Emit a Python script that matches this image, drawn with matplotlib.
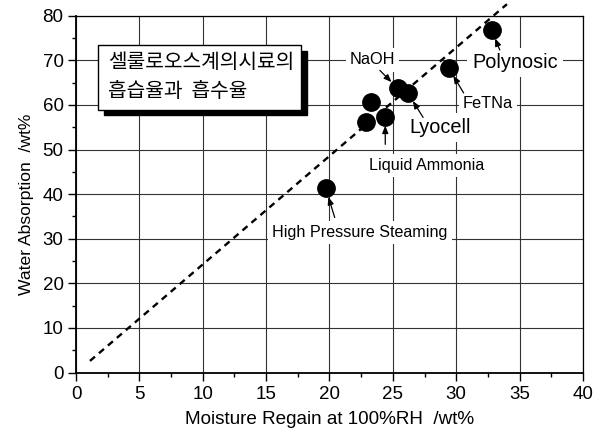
import matplotlib
matplotlib.use("Agg")
import matplotlib.pyplot as plt
from matplotlib.patches import Rectangle
from matplotlib.ticker import MultipleLocator

plt.rcParams['font.family'] = ['Liberation Sans', 'DejaVu Sans']

# ---- data ----
sample_names = ["Polynosic", "FeTNa", "NaOH", "Lyocell",
                "Liquid Ammonia 1", "Liquid Ammonia 2", "Liquid Ammonia", "High Pressure Steaming"]
moisture_regain = [32.8, 29.4, 25.4, 26.2, 23.3, 22.9, 24.4, 19.7]
water_absorption = [76.8, 68.3, 63.7, 62.6, 60.7, 56.2, 57.4, 41.3]

trend_x = [1.1, 34.0]
trend_y = [2.6, 82.6]

x_ticks = [0, 5, 10, 15, 20, 25, 30, 35, 40]
y_ticks = [0, 10, 20, 30, 40, 50, 60, 70, 80]

# labelled samples: (name, text x, text y, arrow tail offset in points, fontsize)
label_specs = [
    ("Polynosic", 34.65, 69.6, (5.8, -14.4), 14.3),
    ("FeTNa", 32.5, 60.4, (10.8, -18.0), 11.8),
    ("NaOH", 23.4, 70.1, (-13.0, 13.0), 11.8),
    ("Lyocell", 28.7, 55.0, (10.8, -17.3), 14.3),
    ("Liquid Ammonia", 27.7, 46.5, (0.0, -20.0), 11.6),
    ("High Pressure Steaming", 22.4, 31.5, (6.5, -21.0), 11.6),
]

fig = plt.figure(figsize=(6.01, 4.38), dpi=100)
ax = fig.add_axes([0.1265, 0.1495, 0.8435, 0.8145])

ax.set_xlim(0, 40)
ax.set_ylim(0, 80)
ax.set_xticks(x_ticks)
ax.set_yticks(y_ticks)
ax.xaxis.set_minor_locator(MultipleLocator(2.5))
ax.yaxis.set_minor_locator(MultipleLocator(5))
ax.tick_params(axis='both', which='major', direction='out', length=6, width=1,
               labelsize=13.5, colors='black')
ax.tick_params(axis='x', which='major', pad=4)
ax.tick_params(axis='y', which='major', pad=3)
ax.tick_params(axis='both', which='minor', direction='out', length=3, width=1)

ax.grid(True, which='major', color='#333333', linewidth=0.8)
ax.set_axisbelow(True)
for sp in ax.spines.values():
    sp.set_color('black')
    sp.set_linewidth(0.9)
ax.spines['left'].set_linewidth(1.3)
ax.spines['bottom'].set_linewidth(1.3)

ax.set_xlabel("Moisture Regain at 100%RH  /wt%", fontsize=13.6, va='center')
ax.xaxis.set_label_coords(0.5, -0.132)
ax.set_ylabel("Water Absorption  /wt%", fontsize=12.6, va='center')
ax.yaxis.set_label_coords(-0.097, 0.472)

# trend line
ax.plot(trend_x, trend_y, color='black', linestyle=(0, (2.8, 2.2)), linewidth=1.7,
        clip_on=False, zorder=3)

# points
ax.plot(moisture_regain, water_absorption, 'o', color='black', markersize=12.5,
        zorder=4, clip_on=False)

# labels with arrows
for name, tx, ty, off, fs in label_specs:
    idx = sample_names.index(name)
    px, py = moisture_regain[idx], water_absorption[idx]
    ax.text(tx, ty, name, fontsize=fs, ha='center', va='center', zorder=5,
            bbox=dict(boxstyle='square,pad=0.25', fc='white', ec='none'))
    ax.annotate("", xy=(px, py), xytext=off, textcoords='offset points',
                xycoords='data', zorder=5,
                arrowprops=dict(arrowstyle='-|>,head_length=0.45,head_width=0.18',
                                color='black', lw=0.9, shrinkA=0, shrinkB=6.5))

# Korean title box with shadow
bx0, by0, bw, bh = 0.0435, 0.736, 0.4005, 0.1815
ax.add_patch(Rectangle((bx0 + 0.011, by0 - 0.015), bw, bh, transform=ax.transAxes,
                       facecolor='black', edgecolor='black', zorder=6))
ax.add_patch(Rectangle((bx0, by0), bw, bh, transform=ax.transAxes,
                       facecolor='white', edgecolor='black', linewidth=1.0, zorder=7))
ax.text(bx0 + 0.019, by0 + bh * 0.73, "셀룰로오스계의시료의", transform=ax.transAxes,
        fontsize=14.6, ha='left', va='center', zorder=8,
        family=['Noto Sans CJK KR', 'DejaVu Sans'])
ax.text(bx0 + 0.019, by0 + bh * 0.29, "흡습율과  흡수율", transform=ax.transAxes,
        fontsize=14.6, ha='left', va='center', zorder=8,
        family=['Noto Sans CJK KR', 'DejaVu Sans'])

fig.savefig("out.png", dpi=100)
